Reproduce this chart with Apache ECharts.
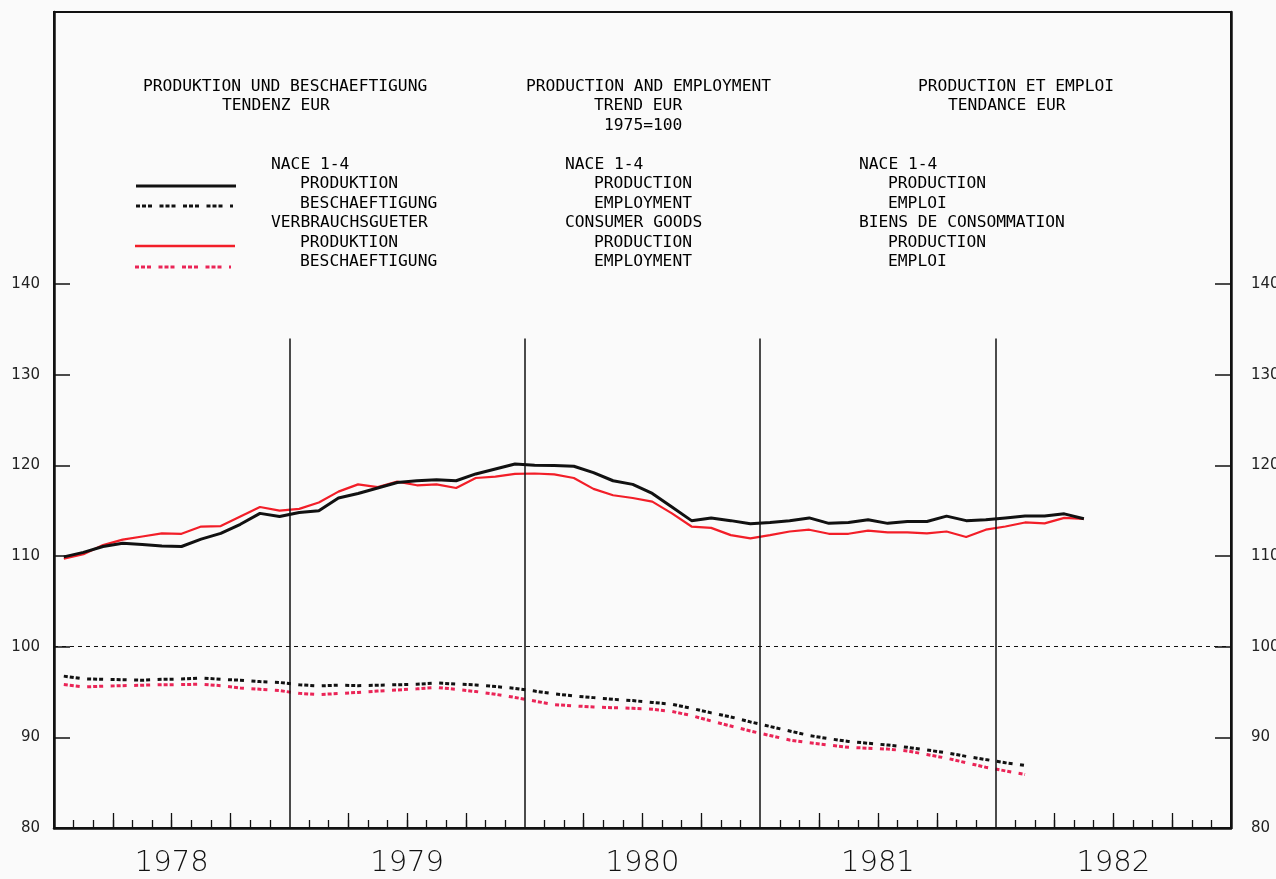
<!DOCTYPE html>
<html>
<head>
<meta charset="utf-8">
<script src="https://cdn.jsdelivr.net/npm/echarts@6/dist/echarts.min.js"></script>
<style>
html,body{margin:0;padding:0;background:#fafafa;}
#chart{width:1276px;height:879px;}
</style>
</head>
<body>
<div id="chart"></div>
<script>
// ---- data (monthly, Jan 1978 = month index 0) ----
const years = ['1978', '1979', '1980', '1981', '1982'];
const monthsPerYear = 12;
// NACE 1-4 production (black solid)
const prodNace = [109.9, 110.4, 111.05, 111.4, 111.27, 111.1, 111.05, 111.86, 112.5, 113.5, 114.7, 114.35,
  114.8, 115.0, 116.4, 116.9, 117.5, 118.1, 118.3, 118.4, 118.3, 119.05, 119.6, 120.15,
  120.0, 119.97, 119.9, 119.2, 118.3, 117.9, 116.9, 115.4, 113.9, 114.2, 113.9, 113.55,
  113.7, 113.9, 114.2, 113.6, 113.7, 114.0, 113.6, 113.8, 113.8, 114.4, 113.9, 114.0,
  114.2, 114.4, 114.4, 114.65, 114.1];
// Consumer goods production (red solid)
const prodConsumer = [109.7, 110.2, 111.2, 111.8, 112.15, 112.5, 112.45, 113.25, 113.3, 114.35, 115.4, 115.0,
  115.2, 115.9, 117.1, 117.9, 117.6, 118.2, 117.8, 117.9, 117.5, 118.6, 118.75, 119.05,
  119.1, 119.0, 118.6, 117.4, 116.7, 116.4, 116.0, 114.7, 113.25, 113.1, 112.3, 111.95,
  112.3, 112.7, 112.9, 112.45, 112.45, 112.8, 112.6, 112.6, 112.5, 112.7, 112.1, 112.9,
  113.25, 113.7, 113.6, 114.2, 114.1];
// NACE 1-4 employment (black dotted)
const emplNace = [96.75, 96.45, 96.4, 96.35, 96.3, 96.4, 96.43, 96.55, 96.4, 96.3, 96.15, 96.05,
  95.8, 95.67, 95.75, 95.7, 95.75, 95.8, 95.85, 96.0, 95.88, 95.78, 95.6, 95.4,
  95.1, 94.8, 94.57, 94.38, 94.2, 94.05, 93.85, 93.65, 93.2, 92.7, 92.25, 91.7,
  91.2, 90.7, 90.2, 89.85, 89.55, 89.35, 89.15, 88.9, 88.6, 88.3, 87.9, 87.55,
  87.2, 86.9];
// Consumer goods employment (red dotted)
const emplConsumer = [95.82, 95.56, 95.64, 95.7, 95.75, 95.8, 95.82, 95.86, 95.7, 95.45, 95.3, 95.15,
  94.85, 94.72, 94.83, 94.95, 95.1, 95.22, 95.35, 95.5, 95.3, 95.05, 94.75, 94.4,
  94.0, 93.6, 93.47, 93.35, 93.27, 93.2, 93.1, 92.85, 92.4, 91.8, 91.25, 90.7,
  90.2, 89.7, 89.4, 89.15, 88.9, 88.8, 88.7, 88.5, 88.1, 87.7, 87.2, 86.7,
  86.3, 85.9];
const yTickLabels = [80, 90, 100, 110, 120, 130, 140];
const baseValue = 100;
const yearBreakTop = 134;

// ---- derived ----
const totalMonths = years.length * monthsPerYear;
const toPairs = arr => arr.map((v, i) => [i + 0.5, v]);
const monthTicks = [];
for (let m = 1; m < totalMonths; m++) if (m % monthsPerYear !== 0) monthTicks.push(m);
const quarterTicks = monthTicks.filter(m => m % 3 === 0);
const yearCenters = years.map((y, i) => i * monthsPerYear + monthsPerYear / 2);
const yearBreaks = years.slice(1).map((y, i) => (i + 1) * monthsPerYear);

const BLACK = '#111';
const RED = '#f21e28';
const RED_DOT = '#ea2456';
const MONO = '"DejaVu Sans Mono", "Liberation Mono", monospace';
const dotDash = [4, 2, 4, 2, 4, 7.5];

const chart = echarts.init(document.getElementById('chart'), null, {renderer: 'canvas'});

function txt(text, x, y) {
  return {type: 'text', x: x, y: y, silent: true,
    style: {text: text, fill: '#000', font: '16.3px ' + MONO, verticalAlign: 'middle'}};
}
function swatch(x1, x2, y, color, width, dash) {
  return {type: 'line', silent: true, shape: {x1: x1, y1: y, x2: x2, y2: y},
    style: {stroke: color, lineWidth: width, lineDash: dash || null}};
}

const graphics = [
  txt('PRODUKTION UND BESCHAEFTIGUNG', 143, 87),
  txt('TENDENZ EUR', 222, 106),
  txt('PRODUCTION AND EMPLOYMENT', 526, 87),
  txt('TREND EUR', 594, 106),
  txt('1975=100', 604, 126),
  txt('PRODUCTION ET EMPLOI', 918, 87),
  txt('TENDANCE EUR', 948, 106),

  txt('NACE 1-4', 271, 165),
  txt('PRODUKTION', 300, 184),
  txt('BESCHAEFTIGUNG', 300, 204),
  txt('VERBRAUCHSGUETER', 271, 223),
  txt('PRODUKTION', 300, 243),
  txt('BESCHAEFTIGUNG', 300, 262),

  txt('NACE 1-4', 565, 165),
  txt('PRODUCTION', 594, 184),
  txt('EMPLOYMENT', 594, 204),
  txt('CONSUMER GOODS', 565, 223),
  txt('PRODUCTION', 594, 243),
  txt('EMPLOYMENT', 594, 262),

  txt('NACE 1-4', 859, 165),
  txt('PRODUCTION', 888, 184),
  txt('EMPLOI', 888, 204),
  txt('BIENS DE CONSOMMATION', 859, 223),
  txt('PRODUCTION', 888, 243),
  txt('EMPLOI', 888, 262),

  swatch(136, 236, 186, BLACK, 3),
  swatch(136, 233, 206, BLACK, 3, dotDash),
  swatch(135, 235, 246, RED, 2.5),
  swatch(135, 231, 267, RED_DOT, 3, dotDash)
];

function makeYAxis(pos, margin) {
  return {
    type: 'value', position: pos, min: 80, max: 170, interval: 10,
    axisLine: {show: true, onZero: false, lineStyle: {color: BLACK, width: 2.5}},
    splitLine: {show: false},
    axisTick: {show: true, inside: true, length: 16, lineStyle: {color: BLACK, width: 1.5},
      customValues: yTickLabels.filter(v => v > 80)},
    axisLabel: {customValues: yTickLabels, margin: margin, color: '#222',
      fontFamily: 'DejaVu Sans', fontSize: 15}
  };
}

const option = {
  backgroundColor: '#fafafa',
  animation: false,
  graphic: graphics,
  grid: {left: 54, right: 45, top: 12, bottom: 51, show: true, borderColor: BLACK, borderWidth: 2,
    backgroundColor: 'transparent', containLabel: false, outerBoundsMode: 'none'},
  xAxis: [
    {
      type: 'value', min: 0, max: totalMonths, interval: 1,
      axisLine: {show: true, onZero: false, lineStyle: {color: BLACK, width: 2.5}},
      splitLine: {show: false},
      axisTick: {show: true, inside: true, length: 8, lineStyle: {color: BLACK, width: 1.3},
        customValues: monthTicks},
      axisLabel: {customValues: yearCenters, margin: 21, color: '#111',
        fontFamily: 'DejaVu Sans', fontSize: 29, fontWeight: 200,
        formatter: v => years[Math.floor(v / monthsPerYear)]}
    },
    {
      type: 'value', min: 0, max: totalMonths, interval: 1, position: 'bottom',
      axisLine: {show: false, onZero: false}, splitLine: {show: false}, axisLabel: {show: false},
      axisTick: {show: true, inside: true, length: 15, lineStyle: {color: BLACK, width: 1.3},
        customValues: quarterTicks}
    }
  ],
  yAxis: [makeYAxis('left', 14), makeYAxis('right', 20)],
  series: [
    {
      name: 'VERBRAUCHSGUETER BESCHAEFTIGUNG', type: 'line', data: toPairs(emplConsumer),
      showSymbol: false, symbol: 'none', silent: true,
      lineStyle: {color: RED_DOT, width: 3, type: dotDash}, z: 3
    },
    {
      name: 'NACE 1-4 BESCHAEFTIGUNG', type: 'line', data: toPairs(emplNace),
      showSymbol: false, symbol: 'none', silent: true,
      lineStyle: {color: BLACK, width: 3, type: dotDash}, z: 4
    },
    {
      name: 'VERBRAUCHSGUETER PRODUKTION', type: 'line', data: toPairs(prodConsumer),
      showSymbol: false, symbol: 'none', silent: true,
      lineStyle: {color: RED, width: 2.2}, z: 3
    },
    {
      name: 'NACE 1-4 PRODUKTION', type: 'line', data: toPairs(prodNace),
      showSymbol: false, symbol: 'none', silent: true,
      lineStyle: {color: BLACK, width: 3}, z: 4,
      markLine: {
        silent: true, symbol: 'none', animation: false,
        label: {show: false},
        data: [
          {yAxis: baseValue, lineStyle: {color: BLACK, width: 1, type: [4, 4]}}
        ].concat(yearBreaks.map(m => [
          {coord: [m, 80], lineStyle: {color: BLACK, width: 1.5, type: 'solid'}},
          {coord: [m, yearBreakTop]}
        ]))
      }
    }
  ]
};

chart.setOption(option);
</script>
</body>
</html>
